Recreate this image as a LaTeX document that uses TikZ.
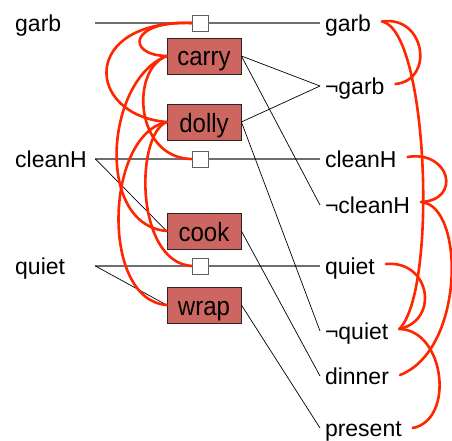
\documentclass[tikz,border=0pt]{standalone}
\usepackage{fontspec}
\setmainfont{Liberation Sans}
\usepackage{graphicx}
\definecolor{mutexred}{RGB}{255,38,0}
\definecolor{boxfill}{RGB}{205,102,96}
\definecolor{boxedge}{RGB}{50,35,35}
\definecolor{sqedge}{RGB}{95,95,95}
\definecolor{linegray}{RGB}{110,110,110}
\begin{document}
\begin{tikzpicture}[x=1pt,y=-1pt,
  lbl/.style={font=\fontsize{23}{27}\selectfont, text height=16.4pt, text depth=0pt, inner ysep=0pt},
  leftlbl/.style={lbl, anchor=west, inner xsep=0pt, text width=80pt, align=left},
  rightlbl/.style={lbl, anchor=west, inner xsep=0pt, outer xsep=5pt},
  act/.style={draw=boxedge, fill=boxfill, line width=0.8pt, minimum width=74pt, minimum height=36pt, inner sep=0pt, font=\fontsize{24}{28}\selectfont, text height=20pt, text depth=0pt},
  noop/.style={draw=sqedge, fill=white, line width=0.8pt, minimum size=16pt, inner sep=0pt},
  persist/.style={draw=linegray, line width=1.2pt},
  link/.style={draw=black, line width=0.7pt},
  mutex/.style={draw=mutexred, line width=2.6pt, line cap=round}
]
\useasboundingbox (0,0) rectangle (452,441);

% left propositions
\node[leftlbl] (garbL)  at (15,23)  {garb};
\node[leftlbl] (cleanL) at (15,159) {cleanH};
\node[leftlbl] (quietL) at (15,266) {quiet};

% right propositions
\node[rightlbl] (garbR)    at (320,23)  {garb};
\node[rightlbl] (ngarbR)   at (320,86)  {¬garb};
\node[rightlbl] (cleanR)   at (320,159) {cleanH};
\node[rightlbl] (ncleanR)  at (320,205) {¬cleanH};
\node[rightlbl] (quietR)   at (320,266) {quiet};
\node[rightlbl] (nquietR)  at (320,331) {¬quiet};
\node[rightlbl] (dinnerR)  at (320,376) {dinner};
\node[rightlbl] (presentR) at (320,428) {present};

% action boxes
\node[act] (carry) at (204,56)  {\scalebox{1}[1.1]{carry}};
\node[act] (dolly) at (204,122) {\scalebox{1}[1.1]{dolly}};
\node[act] (cook)  at (204,231) {\scalebox{1}[1.1]{cook}};
\node[act] (wrap)  at (204,305) {\scalebox{1}[1.1]{wrap}};

% no-op squares
\node[noop] (sqG) at (200,23) {};
\node[noop] (sqC) at (200,159) {};
\node[noop] (sqQ) at (200,266) {};

% persistence lines
\draw[persist] (garbL.east) -- (sqG.west);
\draw[persist] (sqG.east) -- (garbR.west);
\draw[persist] (cleanL.east) -- (sqC.west);
\draw[persist] (sqC.east) -- (cleanR.west);
\draw[persist] (quietL.east) -- (sqQ.west);
\draw[persist] (sqQ.east) -- (quietR.west);

% precondition / effect links
\draw[link] (cleanL.east) -- (cook.west);
\draw[link] (quietL.east) -- (wrap.west);
\draw[link] (carry.east) -- (ngarbR.west);
\draw[link] (dolly.east) -- (ngarbR.west);
\draw[link] (carry.east) -- (ncleanR.west);
\draw[link] (dolly.east) -- (nquietR.west);
\draw[link] (cook.east) -- (dinnerR.west);
\draw[link] (wrap.east) -- (presentR.west);

% action mutexes
\draw[mutex] (sqG.west) .. controls (130,20) and (125,55) .. (carry.west);
\draw[mutex] (sqG.west) .. controls (80,20) and (85,115) .. (dolly.west);
\draw[mutex] (carry.west) .. controls (130,70) and (135,158) .. (sqC.west);
\draw[mutex] (carry.west) .. controls (105,80) and (95,225) .. (cook.west);
\draw[mutex] (dolly.west) .. controls (135,135) and (135,262) .. (sqQ.west);
\draw[mutex] (dolly.west) .. controls (105,135) and (100,300) .. (wrap.west);

% proposition mutexes
\draw[mutex] ([xshift=6pt,yshift=1.5pt]garbR.east) .. controls (425,15) and (435,80) .. ([xshift=6pt,yshift=2pt]ngarbR.east);
\draw[mutex] ([xshift=6pt,yshift=1.5pt]garbR.east) .. controls (428,30) and (438,290) .. ([xshift=6pt,yshift=2pt]nquietR.east);
\draw[mutex] ([xshift=6pt,yshift=2pt]cleanR.east) .. controls (450,150) and (462,200) .. ([xshift=6pt,yshift=3pt]ncleanR.east);
\draw[mutex] ([xshift=6pt,yshift=3pt]ncleanR.east) .. controls (465,205) and (465,350) .. ([xshift=6pt,yshift=1pt]dinnerR.east);
\draw[mutex] ([xshift=6pt,yshift=2pt]quietR.east) .. controls (430,260) and (440,320) .. ([xshift=6pt,yshift=2pt]nquietR.east);
\draw[mutex] ([xshift=6pt,yshift=2pt]nquietR.east) .. controls (445,330) and (455,420) .. ([xshift=6pt,yshift=0pt]presentR.east);
\end{tikzpicture}
\end{document}
